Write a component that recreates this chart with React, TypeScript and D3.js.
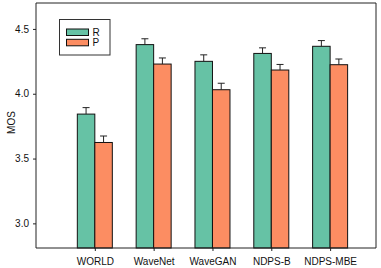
import React, { useRef, useEffect } from 'react';
import * as d3 from 'd3';

const categories = ['WORLD', 'WaveNet', 'WaveGAN', 'NDPS-B', 'NDPS-MBE'];
const seriesNames = ['R', 'P'];
const rValues = [3.843, 4.379, 4.25, 4.311, 4.366];
const rErrors = [0.05, 0.045, 0.05, 0.043, 0.044];
const pValues = [3.624, 4.229, 4.031, 4.183, 4.224];
const pErrors = [0.05, 0.047, 0.05, 0.043, 0.044];
const yTicks = [3.0, 3.5, 4.0, 4.5];
const colors = ['#66C2A5', '#FC8D62'];

const width = 381;
const height = 268;

const App: React.FC = () => {
  const svgRef = useRef<SVGSVGElement>(null);

  useEffect(() => {
    document.body.style.margin = '0';
    if (!svgRef.current) return;
    const svg = d3.select(svgRef.current);
    svg.selectAll('*').remove();

    const left = 36;
    const right = 376;
    const top = 3;
    const bottom = 248;
    const font = '"Liberation Sans", Arial, sans-serif';

    // x position by category index (first group sits one step in from the axis)
    const xScale = d3.scaleLinear().domain([-1, 4.78]).range([left, right]);
    const yScale = d3.scaleLinear().domain([2.81, 4.7]).range([bottom, top]);
    const barW = 17.5;

    const series = [
      { name: seriesNames[0], values: rValues, errors: rErrors, color: colors[0], offset: -barW },
      { name: seriesNames[1], values: pValues, errors: pErrors, color: colors[1], offset: 0 },
    ];

    const g = svg.append('g');

    // bars
    series.forEach((s) => {
      g.selectAll(null)
        .data(s.values)
        .enter()
        .append('rect')
        .attr('x', (_, i) => xScale(i) + s.offset)
        .attr('y', (d) => yScale(d))
        .attr('width', barW)
        .attr('height', (d) => bottom - yScale(d))
        .attr('fill', s.color)
        .attr('stroke', '#111')
        .attr('stroke-width', 1);

      // error bars (upper only)
      const eb = g
        .selectAll(null)
        .data(s.values)
        .enter()
        .append('g')
        .attr('stroke', '#222')
        .attr('stroke-width', 1);
      eb.append('line')
        .attr('x1', (_, i) => xScale(i) + s.offset + barW / 2)
        .attr('x2', (_, i) => xScale(i) + s.offset + barW / 2)
        .attr('y1', (d) => yScale(d))
        .attr('y2', (d, i) => yScale(d + s.errors[i]));
      eb.append('line')
        .attr('x1', (_, i) => xScale(i) + s.offset + barW / 2 - 3.5)
        .attr('x2', (_, i) => xScale(i) + s.offset + barW / 2 + 3.5)
        .attr('y1', (d, i) => yScale(d + s.errors[i]))
        .attr('y2', (d, i) => yScale(d + s.errors[i]));
    });

    // frame
    svg
      .append('path')
      .attr('d', `M${left},${bottom}V${top}H${right}V${bottom}H${left}`)
      .attr('fill', 'none')
      .attr('stroke', '#222')
      .attr('stroke-width', 1);

    // y axis
    const yAxis = svg
      .append('g')
      .attr('transform', `translate(${left},0)`)
      .call(d3.axisLeft(yScale).tickValues(yTicks).tickSize(3).tickPadding(4).tickFormat(d3.format('.1f')));
    yAxis.select('.domain').remove();
    yAxis.selectAll('line').attr('stroke', '#222');
    yAxis.selectAll('text').attr('fill', '#111').style('font-family', font).style('font-size', '10px');

    // x axis
    const xAxis = svg
      .append('g')
      .attr('transform', `translate(0,${bottom})`)
      .call(
        d3
          .axisBottom(xScale)
          .tickValues(d3.range(categories.length))
          .tickSize(3)
          .tickPadding(7)
          .tickFormat((d) => categories[d as number])
      );
    xAxis.select('.domain').remove();
    xAxis.selectAll('line').attr('stroke', '#222');
    xAxis.selectAll('text').attr('fill', '#111').style('font-family', font).style('font-size', '10px');

    // y label
    svg
      .append('text')
      .attr('transform', `translate(15,${(top + bottom) / 2 - 3}) rotate(-90)`)
      .attr('text-anchor', 'middle')
      .style('font-family', font)
      .style('font-size', '10px')
      .attr('fill', '#111')
      .text('MOS');

    // legend
    const lg = svg.append('g').attr('transform', 'translate(59.5,19.5)');
    lg.append('rect')
      .attr('width', 50.5)
      .attr('height', 35.5)
      .attr('fill', 'white')
      .attr('stroke', '#333')
      .attr('stroke-width', 1);
    series.forEach((s, i) => {
      lg.append('rect')
        .attr('x', 7)
        .attr('y', 9.5 + i * 10.3)
        .attr('width', 22)
        .attr('height', 6.5)
        .attr('fill', s.color)
        .attr('stroke', '#111')
        .attr('stroke-width', 1);
      lg.append('text')
        .attr('x', 33)
        .attr('y', 16.5 + i * 10.3)
        .style('font-family', font)
        .style('font-size', '10px')
        .attr('fill', '#111')
        .text(s.name);
    });
  }, []);

  return <svg ref={svgRef} width={width} height={height} style={{ display: 'block' }} />;
};

export default App;
